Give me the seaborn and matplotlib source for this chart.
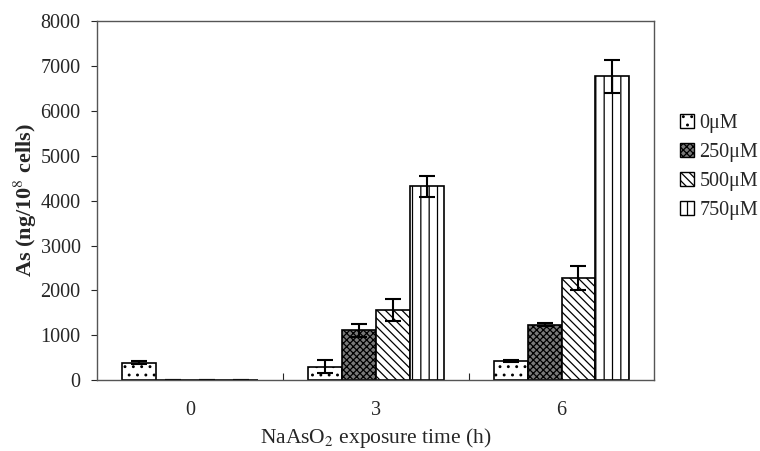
import seaborn as sns
import matplotlib.pyplot as plt
import pandas as pd
from matplotlib.patches import Patch

times = ["0", "3", "6"]
doses = ["0\u03bcM", "250\u03bcM", "500\u03bcM", "750\u03bcM"]
as_0 = [390, 300, 430]
as_250 = [0, 1110, 1240]
as_500 = [0, 1570, 2270]
as_750 = [0, 4320, 6770]
err_0 = [40, 150, 20]
err_250 = [0, 150, 40]
err_500 = [0, 250, 270]
err_750 = [0, 230, 370]

df = pd.DataFrame({
    "time": times * 4,
    "dose": [d for d in doses for _ in times],
    "value": as_0 + as_250 + as_500 + as_750,
})
errs = [err_0, err_250, err_500, err_750]

sns.set_theme(style="white")
plt.rcParams['font.family'] = ['Liberation Serif', 'DejaVu Serif']
plt.rcParams['mathtext.fontset'] = 'stix'
plt.rcParams['hatch.linewidth'] = 0.9

fig = plt.figure(figsize=(7.6, 4.51), dpi=100)
ax = fig.add_axes([0.128, 0.157, 0.733, 0.796])

sns.barplot(x="time", y="value", hue="dose", data=df, order=times, hue_order=doses,
            width=0.73, ax=ax, edgecolor="black", linewidth=1.2, legend=False)

hatches = ["..", "xxxxx", "\\\\\\\\", "||"]
faces = ["white", "#7a7a7a", "white", "white"]
for cont, h, fc, e in zip(ax.containers, hatches, faces, errs):
    xs = []
    for bar in cont:
        bar.set_hatch(h)
        bar.set_facecolor(fc)
        xs.append(bar.get_x() + bar.get_width() / 2)
    vals = [bar.get_height() for bar in cont]
    ax.errorbar(xs, vals, yerr=e, fmt="none", ecolor="black", elinewidth=1.5,
                capsize=6, capthick=1.5)

ax.set_xlim(-0.5, 2.5)
ax.set_ylim(0, 8000)
ax.set_yticks(range(0, 8001, 1000))
ax.set_xlabel("NaAsO$_2$ exposure time (h)", fontsize=15.5, labelpad=4)
ax.set_ylabel("As (ng/10$^8$ cells)", fontsize=16, fontweight="bold", labelpad=1)
ax.tick_params(axis="y", direction="out", length=4, left=True, labelsize=14.5,
               width=0.8, pad=8)
ax.tick_params(axis="x", length=0, labelsize=14.5, pad=15)
ax.set_xticks([0.5, 1.5], minor=True)
ax.tick_params(axis="x", which="minor", direction="in", length=5, bottom=True, width=0.8)
for s in ax.spines.values():
    s.set_color("#555555")
    s.set_linewidth(1.0)

handles = [Patch(facecolor=fc, edgecolor="black", hatch=h, label=d)
           for fc, h, d in zip(faces, hatches, doses)]
fig.legend(handles=handles, loc="center left", bbox_to_anchor=(0.895, 0.63),
           frameon=False, fontsize=14.5, handlelength=0.7, handleheight=0.7,
           handletextpad=0.25, labelspacing=0.5, borderpad=0, borderaxespad=0)

fig.savefig("out.png", dpi=100)
